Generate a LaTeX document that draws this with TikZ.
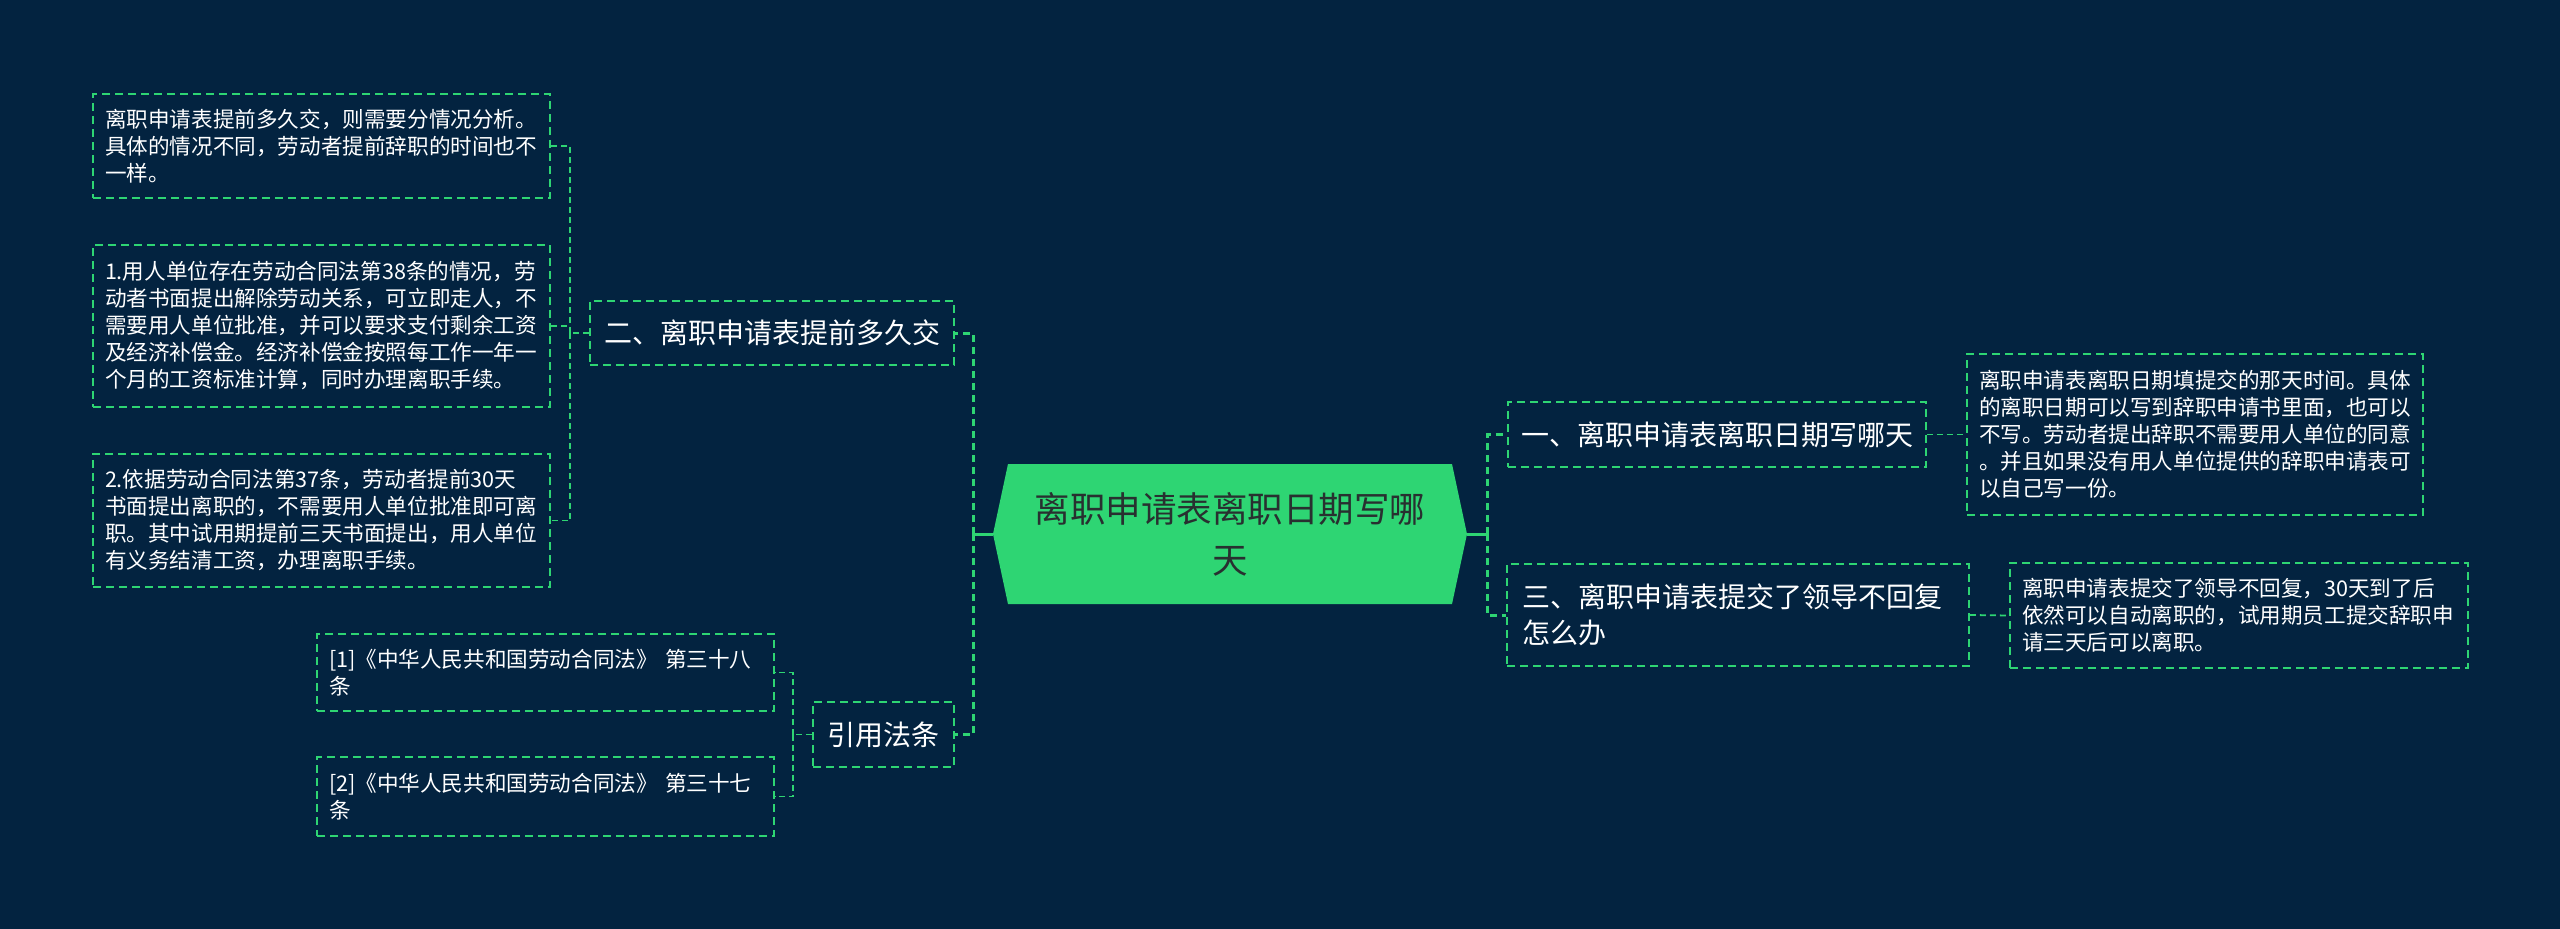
\documentclass[tikz,border=0pt]{standalone}
\usepackage{fontspec}
\newfontfamily\cjk{Noto Sans CJK SC}
\definecolor{bg}{RGB}{3,35,64}
\definecolor{gr}{RGB}{46,213,115}
\definecolor{ctext}{RGB}{40,48,48}
\begin{document}
\begin{tikzpicture}[x=1pt,y=-1pt,
  desc/.style={draw=gr, line width=1.6pt, dash pattern=on 8pt off 5pt, text=white, align=left,
    inner xsep=12pt, inner ysep=0pt, font=\cjk\fontsize{21.6}{27}\selectfont},
  lvl/.style={draw=gr, line width=1.6pt, dash pattern=on 8pt off 5pt, text=white,
    inner sep=0pt, font=\cjk\fontsize{28}{36}\selectfont},
  connA/.style={draw=gr, line width=3pt, dash pattern=on 7pt off 5pt},
  connB/.style={draw=gr, line width=1.8pt, dash pattern=on 6pt off 4pt},
  stub/.style={draw=gr, line width=3pt}]
\useasboundingbox (0,0) rectangle (2560,929);
\fill[bg] (0,0) rectangle (2560,929);

% central hexagon
\fill[gr] (993,534) -- (1008,464) -- (1452,464) -- (1467,534) -- (1452,604) -- (1008,604) -- cycle;
\node[font=\cjk\fontsize{35.5}{51}\selectfont, text=ctext, align=center] (ctr) at (1230,534) {离职申请表离职日期写哪\\天};
\coordinate (cL) at (993,534);
\coordinate (cR) at (1467,534);
\coordinate (cLb) at (973,534);
\coordinate (cRb) at (1487,534);

% left level-1
\node[lvl, minimum width=364pt, minimum height=64pt] (er) at (772,333) {二、离职申请表提前多久交};
\node[lvl, minimum width=141pt, minimum height=65pt] (yy) at (883.5,734.5) {引用法条};

% right level-1
\node[lvl, minimum width=418pt, minimum height=65pt] (yi) at (1717,434.5) {一、离职申请表离职日期写哪天};
\node[lvl, align=left, text width=432pt, inner xsep=15pt, minimum height=102pt] (san) at (1738,615) {三、离职申请表提交了领导不回复\\怎么办};

% left descriptions
\node[desc, text width=433pt, minimum height=104pt] (b1) at (321.5,146) {离职申请表提前多久交，则需要分情况分析。\\具体的情况不同，劳动者提前辞职的时间也不\\一样。};
\node[desc, text width=433pt, minimum height=162pt] (b2) at (321.5,326) {1.用人单位存在劳动合同法第38条的情况，劳\\动者书面提出解除劳动关系，可立即走人，不\\需要用人单位批准，并可以要求支付剩余工资\\及经济补偿金。经济补偿金按照每工作一年一\\个月的工资标准计算，同时办理离职手续。};
\node[desc, text width=433pt, minimum height=133pt] (b3) at (321.5,520.5) {2.依据劳动合同法第37条，劳动者提前30天\\书面提出离职的，不需要用人单位批准即可离\\职。其中试用期提前三天书面提出，用人单位\\有义务结清工资，办理离职手续。};

% references
\node[desc, text width=433pt, minimum height=77pt] (r1) at (545.5,672.5) {[1]《中华人民共和国劳动合同法》 第三十八\\条};
\node[desc, text width=433pt, minimum height=79pt] (r2) at (545.5,796.5) {[2]《中华人民共和国劳动合同法》 第三十七\\条};

% right descriptions
\node[desc, text width=432pt, minimum height=161pt] (d1) at (2195,434.5) {离职申请表离职日期填提交的那天时间。具体\\的离职日期可以写到辞职申请书里面，也可以\\不写。劳动者提出辞职不需要用人单位的同意\\。并且如果没有用人单位提供的辞职申请表可\\以自己写一份。};
\node[desc, text width=434pt, minimum height=105pt] (d3) at (2239,615.5) {离职申请表提交了领导不回复，30天到了后\\依然可以自动离职的，试用期员工提交辞职申\\请三天后可以离职。};

% connectors from centre
\draw[stub] (cL) -- (cLb);
\draw[stub] (cR) -- (cRb);
\draw[connA] (cLb) |- (er.east);
\draw[connA] (cLb) |- (yy.east);
\draw[connA] (cRb) |- (yi.west);
\draw[connA] (cRb) |- (san.west);

% level 2 connectors
\coordinate (erb) at (570,333);
\draw[connB] (er.west) -- (erb);
\draw[connB] (erb) |- (b1.east);
\draw[connB] (erb) |- (b2.east);
\draw[connB] (erb) |- (b3.east);

\coordinate (yyb) at (793,734.5);
\draw[connB] (yy.west) -- (yyb);
\draw[connB] (yyb) |- (r1.east);
\draw[connB] (yyb) |- (r2.east);

\draw[connB] (yi.east) -- (d1.west);
\draw[connB] (san.east) -- (d3.west);
\end{tikzpicture}
\end{document}
